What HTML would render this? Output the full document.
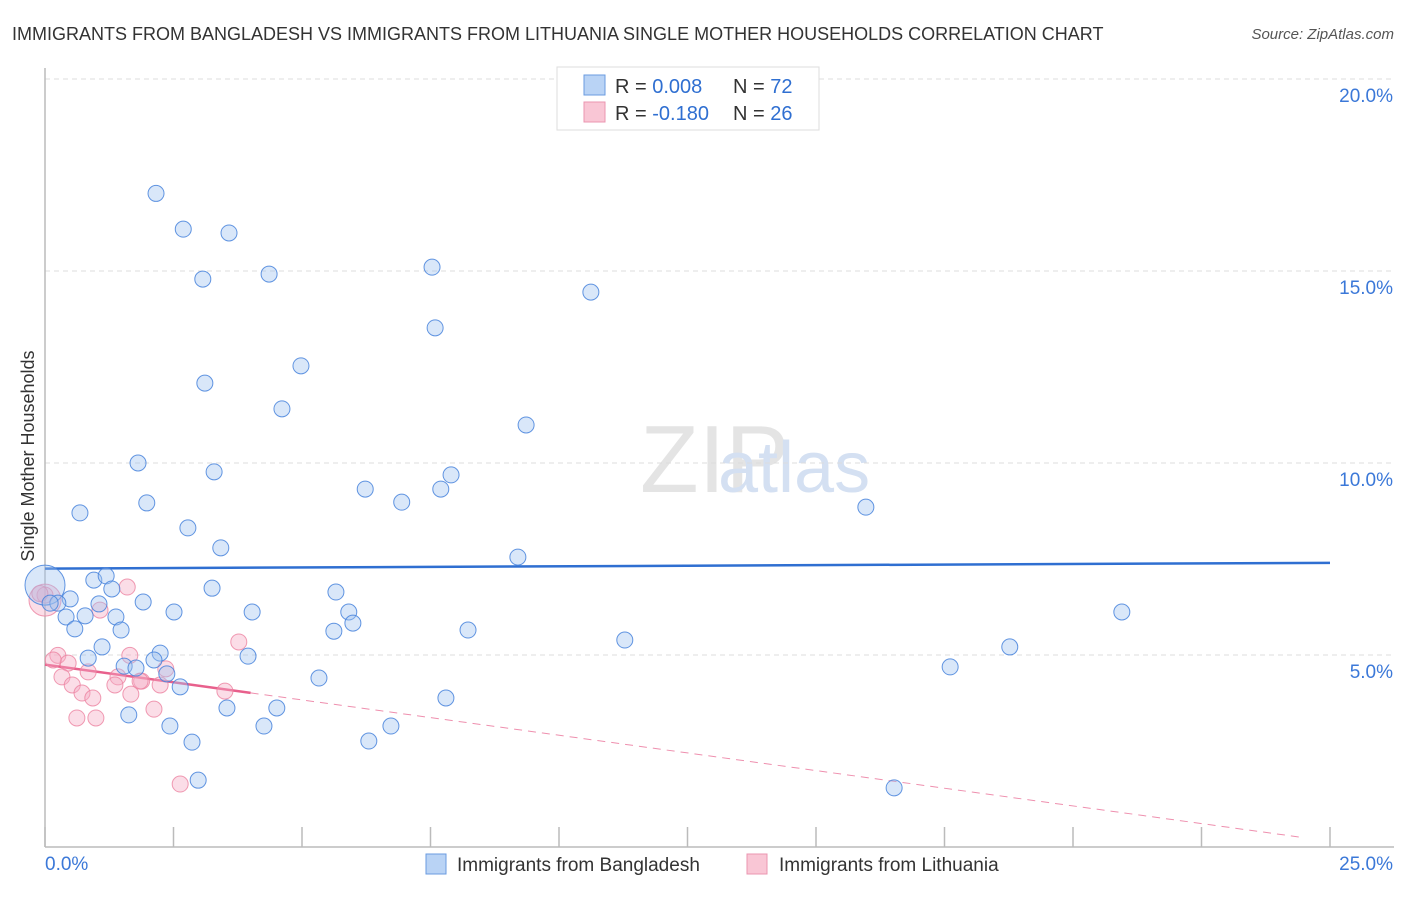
<!DOCTYPE html>
<html><head><meta charset="utf-8"><style>
body{margin:0;background:#fff;font-family:"Liberation Sans",sans-serif;}
svg text{font-family:"Liberation Sans",sans-serif;}
</style></head><body>
<svg id="chart" width="1406" height="892">
<text x="12" y="40" font-size="18" fill="#333">IMMIGRANTS FROM BANGLADESH VS IMMIGRANTS FROM LITHUANIA SINGLE MOTHER HOUSEHOLDS CORRELATION CHART</text>
<text x="1394" y="39" font-size="15" fill="#555" text-anchor="end" font-style="italic">Source: ZipAtlas.com</text>
<text x="640" y="492" font-size="96" fill="#e4e4e4" font-family="Liberation Serif">ZIP</text>
<text x="718" y="492" font-size="72" fill="#d4e0f2">atlas</text>
<g id="grid"></g><g id="axes"></g><g id="trends"></g><g id="points"></g>
<text transform="translate(34,456) rotate(-90)" font-size="18" fill="#333" text-anchor="middle">Single Mother Households</text>
<g>
<rect x="557" y="67" width="262" height="63" fill="#fff" stroke="#ddd"/>
<rect x="584" y="75" width="21" height="20" fill="#b9d3f5" stroke="#6a9be0"/>
<rect x="584" y="102" width="21" height="20" fill="#f9c6d5" stroke="#eb95b0"/>
<text x="615" y="93" font-size="20" fill="#333">R = <tspan fill="#2f6fd1">0.008</tspan></text>
<text x="733" y="93" font-size="20" fill="#333">N = <tspan fill="#2f6fd1">72</tspan></text>
<text x="615" y="120" font-size="20" fill="#333">R = <tspan fill="#2f6fd1">-0.180</tspan></text>
<text x="733" y="120" font-size="20" fill="#333">N = <tspan fill="#2f6fd1">26</tspan></text>
</g>
<g>
<rect x="426" y="854" width="20" height="20" fill="#b9d3f5" stroke="#6a9be0"/>
<text x="457" y="871" font-size="19" fill="#333">Immigrants from Bangladesh</text>
<rect x="747" y="854" width="20" height="20" fill="#f9c6d5" stroke="#eb95b0"/>
<text x="779" y="871" font-size="19" fill="#333">Immigrants from Lithuania</text>
</g>
</svg>
<script>
const xTicks=[0,2.5,5,7.5,10,12.5,15,17.5,20,22.5,25];
const yTicks=[5,10,15,20];
const yTickLabels=["5.0%","10.0%","15.0%","20.0%"];
const blueX=[2.16,2.69,3.58,3.07,4.36,7.53,10.62,7.59,4.98,3.11,4.61,9.36,1.81,3.29,7.9,6.23,7.7,15.97,0.68,1.98,6.94,2.78,3.42,9.2,0.95,1.19,1.3,3.25,5.66,0,0.49,0.25,0.1,1.05,1.91,2.51,4.03,5.91,20.95,0.41,0.78,1.38,5.99,0.58,1.48,5.62,8.23,11.28,1.11,18.77,0.84,2.24,2.12,3.95,1.54,1.77,2.37,17.61,2.63,5.33,7.8,3.54,4.51,1.63,2.43,4.26,6.73,2.86,6.3,2.98,16.52];
const blueY=[17.02,16.09,15.99,14.79,14.92,15.1,14.45,13.52,12.53,12.08,11.41,10.99,10.0,9.77,9.69,9.32,9.32,8.85,8.7,8.96,8.98,8.31,7.79,7.55,6.95,7.06,6.72,6.74,6.64,6.82,6.46,6.35,6.35,6.33,6.38,6.12,6.12,6.12,6.12,5.99,6.02,5.99,5.83,5.68,5.65,5.62,5.65,5.39,5.21,5.21,4.92,5.05,4.87,4.97,4.71,4.66,4.51,4.69,4.17,4.4,3.88,3.62,3.62,3.44,3.15,3.15,3.15,2.73,2.76,1.74,1.54];
const pinkX=[0,1.6,1.07,3.77,0.25,0.45,0.16,0.84,1.65,0.33,1.42,2.35,1.88,0.53,1.36,0.72,0.93,1.67,3.5,2.12,0.62,0.99,2.63,1.85,2.24,0,-0.1];
const pinkY=[6.43,6.77,6.17,5.34,4.99,4.79,4.87,4.56,4.99,4.43,4.43,4.64,4.32,4.22,4.22,4.01,3.88,3.98,4.06,3.59,3.36,3.36,1.64,4.32,4.22,6.56,6.6];
const trendIntercept=[7.25,4.75];
const trendSlope=[0.006,-0.184];
const trendSolidEnd=[25,4];
const trendDashEnd=[null,24.4];
const X=v=>45+v*51.4, Y=v=>847-v*38.4;
const NS="http://www.w3.org/2000/svg";
function mk(t,a,p){const e=document.createElementNS(NS,t);for(const k in a)e.setAttribute(k,a[k]);p.appendChild(e);return e;}
const grid=document.getElementById('grid'),axes=document.getElementById('axes');
yTicks.forEach((t,i)=>{
 const l=mk('line',{x1:45,x2:1394,y1:Y(t),y2:Y(t),stroke:'#ddd','stroke-dasharray':'5,4'},grid);
 
 
 const tx=mk('text',{x:1393,y:Y(t)+23,'font-size':19,fill:'#3b78d8','text-anchor':'end'},axes);
 tx.textContent=yTickLabels[i];
 
 
});
const ax=mk('line',{x1:45,x2:45,y1:68,y2:847,stroke:'#bbb','stroke-width':1.5},axes);


const bx=mk('line',{x1:45,x2:1394,y1:847,y2:847,stroke:'#bbb','stroke-width':1.5},axes);


xTicks.forEach(t=>{
 const l=mk('line',{x1:X(t),x2:X(t),y1:827,y2:847,stroke:'#bbb','stroke-width':1.5},axes);
 
 
});
const x0=mk('text',{x:45,y:870,'font-size':19,fill:'#3b78d8'},axes);x0.textContent='0.0%';


const x1=mk('text',{x:1393,y:870,'font-size':19,fill:'#3b78d8','text-anchor':'end'},axes);x1.textContent='25.0%';


const pts=document.getElementById('points');
pinkX.forEach((x,i)=>{
 const big=i>=25||i===0;
 const c=mk('circle',{cx:X(x),cy:Y(pinkY[i]),r:big?(i===0?16:8):8,fill:'rgba(246,170,195,0.4)',stroke:'rgba(236,130,160,0.8)','stroke-width':1},pts);
 
 
});
blueX.forEach((x,i)=>{
 const c=mk('circle',{cx:X(x),cy:Y(blueY[i]),r:i===29?20:8,fill:'rgba(160,195,240,0.4)',stroke:'rgba(70,130,220,0.85)','stroke-width':1},pts);
 
 
});
const tr=document.getElementById('trends');
const cols=['#2f6fd1','#e8608c'];
[0,1].forEach(s=>{
 const f=v=>trendIntercept[s]+trendSlope[s]*v;
 const l=mk('line',{x1:X(0),y1:Y(f(0)),x2:X(trendSolidEnd[s]),y2:Y(f(trendSolidEnd[s])),stroke:cols[s],'stroke-width':2.5},tr);
 
 
 if(trendDashEnd[s]!==null){
  const d=mk('line',{x1:X(trendSolidEnd[s]),y1:Y(f(trendSolidEnd[s])),x2:X(trendDashEnd[s]),y2:Y(f(trendDashEnd[s])),stroke:cols[s],'stroke-width':1,'stroke-dasharray':'8,6',opacity:0.7},tr);
  
  
 }
});
</script>
</body></html>
